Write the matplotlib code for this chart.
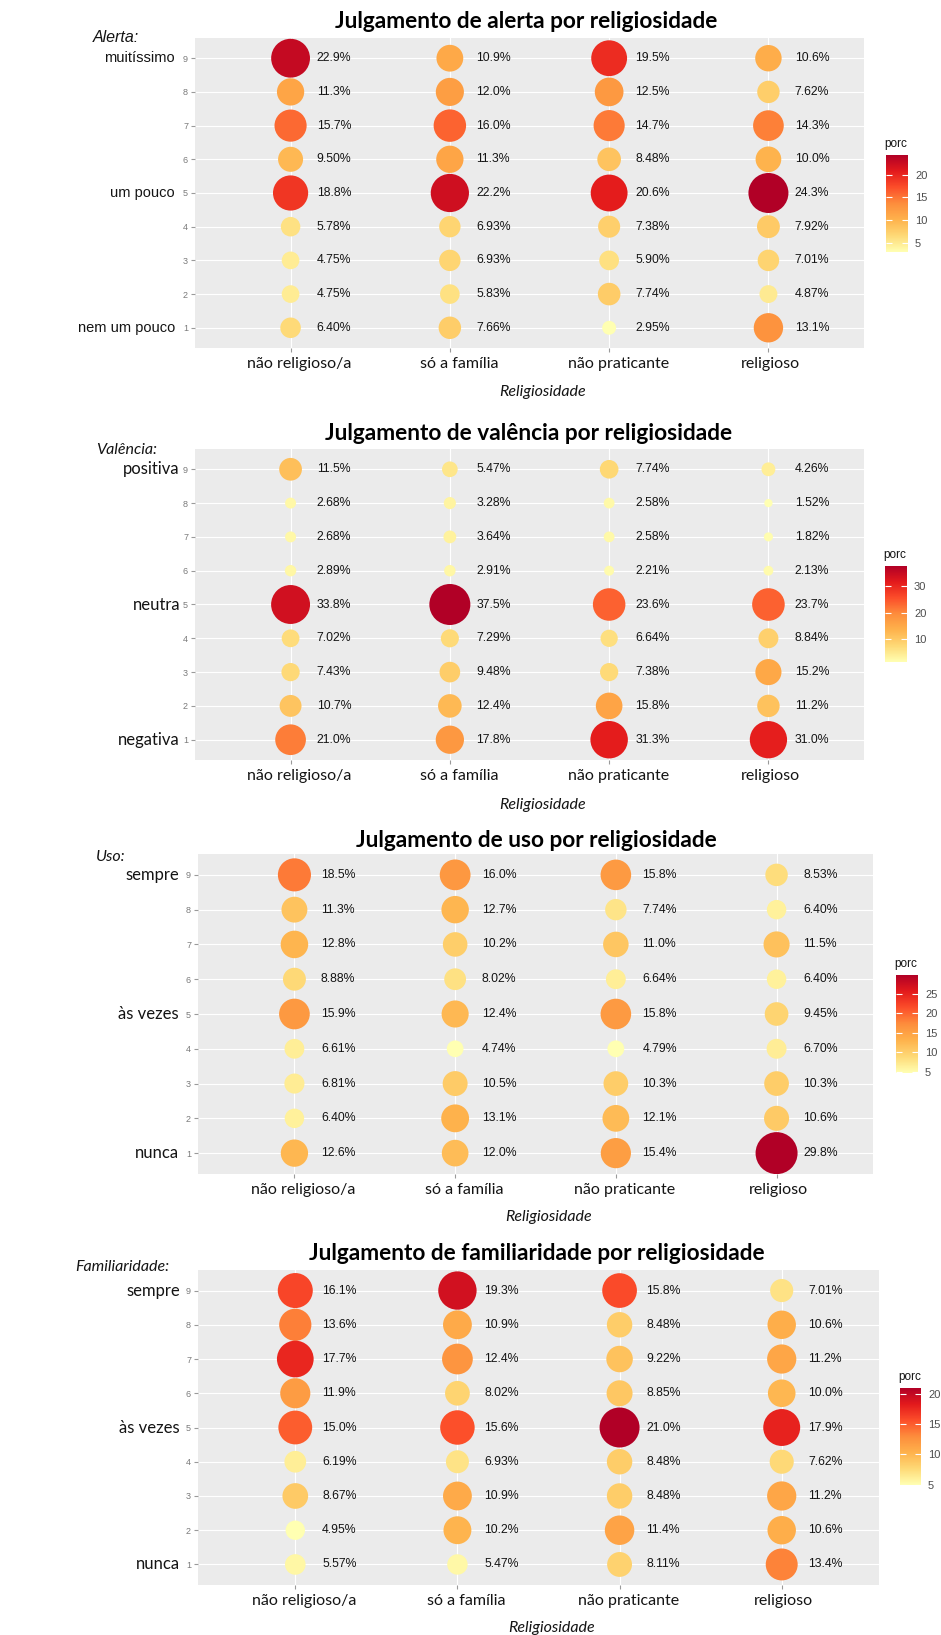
import numpy as np
import matplotlib
matplotlib.use("Agg")
import matplotlib.pyplot as plt
from matplotlib import transforms
from matplotlib.colors import LinearSegmentedColormap, Normalize
from matplotlib.cm import ScalarMappable

# ---------------- data ----------------
religiosidade = ["não religioso/a", "só a família", "não praticante", "religioso"]
niveis = [9, 8, 7, 6, 5, 4, 3, 2, 1]

# each row: one religiosity group, values for levels 9..1 (percent)
alerta = [
    [22.9, 11.3, 15.7, 9.50, 18.8, 5.78, 4.75, 4.75, 6.40],
    [10.9, 12.0, 16.0, 11.3, 22.2, 6.93, 6.93, 5.83, 7.66],
    [19.5, 12.5, 14.7, 8.48, 20.6, 7.38, 5.90, 7.74, 2.95],
    [10.6, 7.62, 14.3, 10.0, 24.3, 7.92, 7.01, 4.87, 13.1],
]
valencia = [
    [11.5, 2.68, 2.68, 2.89, 33.8, 7.02, 7.43, 10.7, 21.0],
    [5.47, 3.28, 3.64, 2.91, 37.5, 7.29, 9.48, 12.4, 17.8],
    [7.74, 2.58, 2.58, 2.21, 23.6, 6.64, 7.38, 15.8, 31.3],
    [4.26, 1.52, 1.82, 2.13, 23.7, 8.84, 15.2, 11.2, 31.0],
]
uso = [
    [18.5, 11.3, 12.8, 8.88, 15.9, 6.61, 6.81, 6.40, 12.6],
    [16.0, 12.7, 10.2, 8.02, 12.4, 4.74, 10.5, 13.1, 12.0],
    [15.8, 7.74, 11.0, 6.64, 15.8, 4.79, 10.3, 12.1, 15.4],
    [8.53, 6.40, 11.5, 6.40, 9.45, 6.70, 10.3, 10.6, 29.8],
]
familiaridade = [
    [16.1, 13.6, 17.7, 11.9, 15.0, 6.19, 8.67, 4.95, 5.57],
    [19.3, 10.9, 12.4, 8.02, 15.6, 6.93, 10.9, 10.2, 5.47],
    [15.8, 8.48, 9.22, 8.85, 21.0, 8.48, 8.48, 11.4, 8.11],
    [7.01, 10.6, 11.2, 10.0, 17.9, 7.62, 11.2, 10.6, 13.4],
]

titulos = ["Julgamento de alerta por religiosidade",
           "Julgamento de valência por religiosidade",
           "Julgamento de uso por religiosidade",
           "Julgamento de familiaridade por religiosidade"]
eixos_y = ["Alerta:", "Valência:", "Uso:", "Familiaridade:"]
rotulos_y = [
    {9: "muitíssimo", 5: "um pouco", 1: "nem um pouco"},
    {9: "positiva", 5: "neutra", 1: "negativa"},
    {9: "sempre", 5: "às vezes", 1: "nunca"},
    {9: "sempre", 5: "às vezes", 1: "nunca"},
]
ticks_cbar = [[5, 10, 15, 20], [10, 20, 30], [5, 10, 15, 20, 25], [5, 10, 15, 20]]

# ---------------- layout (pixels) ----------------
W, H = 941, 1635
fig = plt.figure(figsize=(W / 100, H / 100), dpi=100)
fig.patch.set_facecolor("white")

panels = [  # x0, y0, x1, y1
    (195, 38, 864, 348),
    (195, 449, 864, 760),
    (198, 854, 873, 1174),
    (198, 1270, 879, 1585),
]
cbars = [
    (886, 155, 908, 252),
    (885, 566, 907, 662),
    (896, 975, 918, 1073),
    (900, 1388, 921, 1485),
]
title_pos = [(526, 21), (529, 433), (536, 840), (537, 1253)]
ylab_pos = [(93, 38), (96, 450), (96, 857), (75, 1267)]
ycat_x = [175, 180, 179, 180]
xlab_y = [392, 805, 1217, 1628]
xlab_x = [543, 543, 549, 552]
dmax_px = [40, 41, 42, 40]
xlabel_shift_px = [9, 9, 9, 2]

colors = ["#FFFFB2", "#FED976", "#FEB24C", "#FD8D3C", "#FC4E2A", "#E31A1C", "#B10026"]
cmap = LinearSegmentedColormap.from_list("ylorrd", colors)

TXT = "#141414"
GRAY = "#4D4D4D"
sans = ["Liberation Sans", "DejaVu Sans"]
human = ["Lato", "DejaVu Sans"]


def fx(x):
    return x / W


def fy(y):
    return 1 - y / H


datasets = [alerta, valencia, uso, familiaridade]

for p, data in enumerate(datasets):
    x0, y0, x1, y1 = panels[p]
    ax = fig.add_axes([fx(x0), fy(y1), (x1 - x0) / W, (y1 - y0) / H])
    ax.set_facecolor("#EBEBEB")
    for s in ax.spines.values():
        s.set_visible(False)
    ax.set_axisbelow(True)
    ax.grid(True, color="white", lw=0.8)

    arr = np.array(data)
    vmax = arr.max()
    vmin = arr.min()
    norm = Normalize(vmin=vmin, vmax=vmax)

    for i, grupo in enumerate(data):
        vals = np.array(grupo)
        d_px = dmax_px[p] * np.sqrt(vals / vmax)
        s = (d_px * 0.72) ** 2
        ax.scatter(np.full(len(vals), i), niveis, s=s, c=cmap(norm(vals)),
                   edgecolors="none", zorder=3)
        for lv, v in zip(niveis, vals):
            ax.text(i + 0.165, lv, f"{v:#.3g}%", ha="left", va="center",
                    fontsize=8.8, color=TXT, family=sans, zorder=4)

    ax.set_xlim(-0.6, 3.6)
    ax.set_ylim(0.4, 9.6)
    ax.set_xticks(range(len(religiosidade)))
    ax.set_xticklabels([])
    for i, (lab, sh) in enumerate(zip(religiosidade, xlabel_shift_px)):
        trx = transforms.offset_copy(ax.get_xaxis_transform(), fig=fig,
                                     x=sh, y=-9, units="dots")
        ax.text(i, 0, lab, transform=trx, ha="center", va="top",
                family=human, fontsize=11.5, color=TXT)
    ax.set_yticks(niveis)
    ax.set_yticklabels([str(n) for n in niveis], family=sans, fontsize=6.5, color="#7a7a7a")
    ax.tick_params(axis="both", length=3, width=0.8, color="#9a9a9a")
    ax.tick_params(axis="y", pad=2)

    # category labels of the y scale
    tr = transforms.blended_transform_factory(fig.transFigure, ax.transData)
    fam = sans if p == 0 else human
    fs = 10.5 if p == 0 else 12
    for lv, lab in rotulos_y[p].items():
        ax.text(fx(ycat_x[p]), lv, lab, transform=tr, ha="right", va="center",
                fontsize=fs, color=TXT, family=fam)

    # titles & axis labels
    tx, ty = title_pos[p]
    fig.text(fx(tx), fy(ty), titulos[p], ha="center", va="center",
             fontsize=16.3, fontweight="bold", color="black", family=human)
    lx, ly = ylab_pos[p]
    fig.text(fx(lx), fy(ly), eixos_y[p], ha="left", va="center", fontsize=11.5,
             style="italic", color=TXT, family=(sans if p == 0 else human))
    fig.text(fx(xlab_x[p]), fy(xlab_y[p]), "Religiosidade", ha="center", va="center",
             fontsize=11.5, style="italic", color=TXT, family=human)

    # colorbar
    cx0, cy0, cx1, cy1 = cbars[p]
    cax = fig.add_axes([fx(cx0), fy(cy1), (cx1 - cx0) / W, (cy1 - cy0) / H])
    cb = fig.colorbar(ScalarMappable(norm=norm, cmap=cmap), cax=cax)
    cb.outline.set_visible(False)
    cb.set_ticks(ticks_cbar[p])
    cax.tick_params(axis="y", direction="in", length=4, width=0.8, color="white",
                    left=True, right=True, labelcolor=GRAY, labelsize=8, pad=5)
    for t in cax.get_yticklabels():
        t.set_family(sans)
    fig.text(fx(cx0 - 2), fy(cy0 - 11), "porc", ha="left", va="center",
             fontsize=8.5, color=TXT, family=sans)

fig.savefig("out.png", dpi=100, facecolor="white")
